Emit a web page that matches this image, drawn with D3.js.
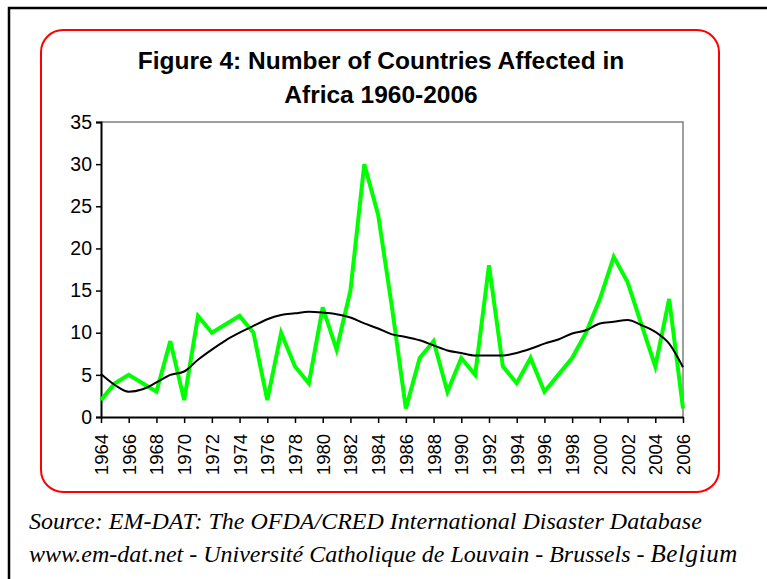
<!DOCTYPE html>
<html>
<head>
<meta charset="utf-8">
<script src="https://cdn.jsdelivr.net/npm/d3@7"></script>
<style>
  html, body { margin: 0; padding: 0; background: #fff; }
  svg { display: block; }
</style>
</head>
<body>
<svg id="chart" width="767" height="579"></svg>
<script>
// Years on the category axis
const years = d3.range(1964, 2007);

// Number of countries affected per year
const countries = [2, 4, 5, 4, 3, 9, 2, 12, 10, 11, 12, 10, 2, 10, 6, 4, 13, 8, 15, 30,
  24, 13, 1, 7, 9, 3, 7, 5, 18, 6, 4, 7, 3, 5, 7, 10, 14, 19, 16, 11, 6, 14, 1];

// Smoothed trend of the yearly counts
const trend = [5.1, 3.8, 3.0, 3.3, 4.1, 5.0, 5.4, 6.8, 8.0, 9.1, 10.0, 10.8, 11.6, 12.1,
  12.3, 12.5, 12.4, 12.2, 11.8, 11.1, 10.5, 9.8, 9.5, 9.1, 8.5, 7.9, 7.6, 7.3, 7.3, 7.3,
  7.6, 8.1, 8.7, 9.2, 9.9, 10.3, 11.1, 11.3, 11.5, 10.9, 10.1, 8.7, 5.9];

// Axis tick values
const yTicks = [0, 5, 10, 15, 20, 25, 30, 35];
const xTicks = d3.range(1964, 2007, 2);

const titleLines = ["Figure 4: Number of Countries Affected in", "Africa 1960-2006"];
const sourceLines = ["Source: EM-DAT: The OFDA/CRED International Disaster Database",
  "www.em-dat.net - Université Catholique de Louvain - Brussels - "];
const sourceTail = "Belgium";

const svg = d3.select("#chart");

// Page frame
svg.append("path")
  .attr("d", "M9,579 V8 H767")
  .attr("fill", "none")
  .attr("stroke", "#000")
  .attr("stroke-width", 2.5);

// Rounded chart border
svg.append("rect")
  .attr("x", 41).attr("y", 30)
  .attr("width", 678).attr("height", 462)
  .attr("rx", 22).attr("ry", 22)
  .attr("fill", "#fff")
  .attr("stroke", "#ff0000")
  .attr("stroke-width", 2);

// Title
const title = svg.append("text")
  .attr("text-anchor", "middle")
  .attr("font-family", "'Liberation Sans', Arial, sans-serif")
  .attr("font-weight", "bold")
  .attr("font-size", 24.5)
  .attr("fill", "#000");
title.selectAll("tspan").data(titleLines).join("tspan")
  .attr("x", 381)
  .attr("y", (d, i) => 69 + i * 34)
  .text(d => d);

const x = d3.scaleLinear().domain([1964, 2006]).range([101, 683]);
const y = d3.scaleLinear().domain([0, 35]).range([417, 122]);

// Plot frame: grey top and right edges
svg.append("path")
  .attr("d", `M${x(1964)},${y(35)} H${x(2006)} V${y(0)}`)
  .attr("fill", "none")
  .attr("stroke", "#808080")
  .attr("stroke-width", 1.5);

// Y axis
const yAxis = svg.append("g")
  .attr("transform", `translate(${x(1964)},0)`)
  .call(d3.axisLeft(y).tickValues(yTicks).tickSize(5).tickPadding(4).tickFormat(d3.format("d")));
yAxis.select(".domain").attr("stroke", "#000").attr("stroke-width", 2);
yAxis.selectAll(".tick line").attr("stroke", "#000").attr("stroke-width", 1.5);
yAxis.selectAll(".tick text")
  .attr("font-family", "'Liberation Sans', Arial, sans-serif")
  .attr("font-size", 19.5)
  .attr("fill", "#000");

// X axis
const xAxis = svg.append("g")
  .attr("transform", `translate(0,${y(0)})`)
  .call(d3.axisBottom(x).tickValues(xTicks).tickSize(6).tickSizeOuter(0).tickFormat(d3.format("d")));
xAxis.select(".domain").attr("stroke", "#000").attr("stroke-width", 2);
xAxis.selectAll(".tick line").attr("stroke", "#000").attr("stroke-width", 1.5);
xAxis.selectAll(".tick text")
  .attr("font-family", "'Liberation Sans', Arial, sans-serif")
  .attr("font-size", 18.5)
  .attr("fill", "#000")
  .attr("text-anchor", "end")
  .attr("dy", "0.35em")
  .attr("transform", "translate(0,17) rotate(-90)")
  .attr("x", 0)
  .attr("y", 0);

// Yearly counts
const line = d3.line().x((d, i) => x(years[i])).y(d => y(d));
svg.append("path")
  .datum(countries)
  .attr("d", line)
  .attr("fill", "none")
  .attr("stroke", "#00ff00")
  .attr("stroke-width", 4)
  .attr("stroke-linejoin", "miter");

// Trend line
svg.append("path")
  .datum(trend)
  .attr("d", d3.line().x((d, i) => x(years[i])).y(d => y(d)).curve(d3.curveMonotoneX))
  .attr("fill", "none")
  .attr("stroke", "#000")
  .attr("stroke-width", 2);

// Source note
const src = svg.append("g")
  .attr("font-family", "'Liberation Serif', 'Times New Roman', serif")
  .attr("font-style", "italic")
  .attr("font-size", 24)
  .attr("fill", "#000");
src.append("text").attr("x", 29).attr("y", 529).text(sourceLines[0]);
const l2 = src.append("text").attr("x", 29).attr("y", 562);
l2.append("tspan").text(sourceLines[1]);
l2.append("tspan").attr("font-size", 25).attr("letter-spacing", 0.6).text(sourceTail);
</script>
</body>
</html>
